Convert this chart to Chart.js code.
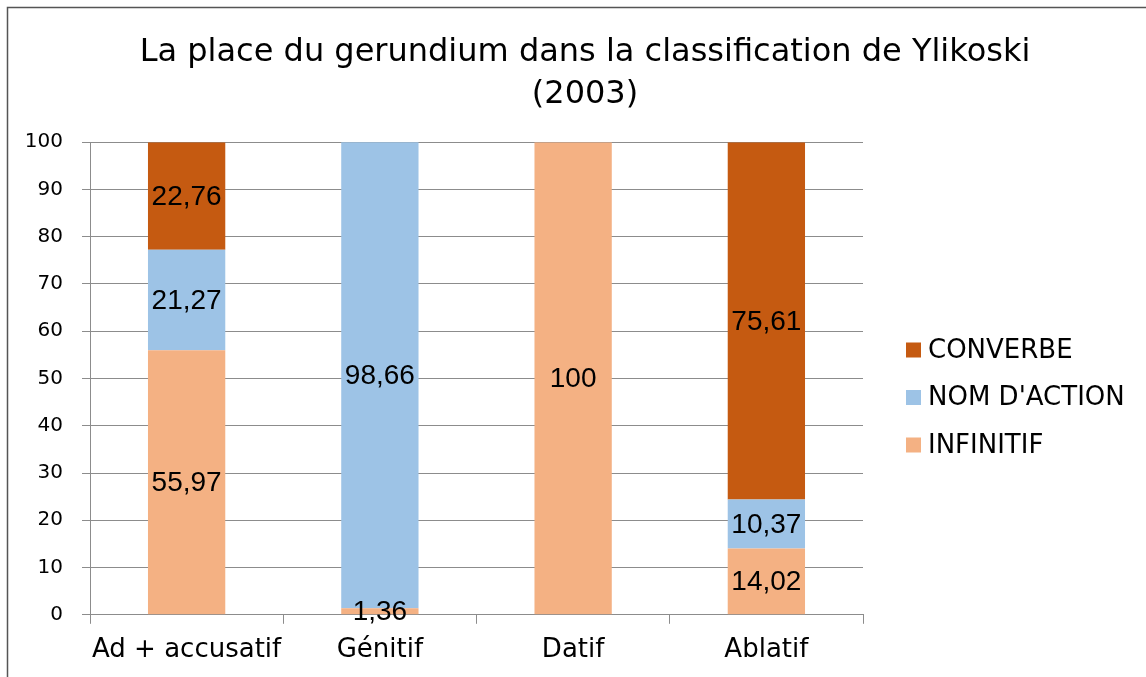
<!DOCTYPE html>
<html>
<head>
<meta charset="utf-8">
<script src="https://cdn.jsdelivr.net/npm/chart.js@4.4.1/dist/chart.umd.min.js"></script>
<style>
  html, body { margin: 0; padding: 0; background: #fff; }
  #wrap { width: 1146px; height: 677px; }
</style>
</head>
<body>
<div id="wrap"><canvas id="chart"></canvas></div>
<script>
/* data */
const categories = ['Ad + accusatif', 'Génitif', 'Datif', 'Ablatif']
const infinitif = [55.97, 1.36, 100, 14.02]
const nomAction = [21.27, 98.66, 0, 10.37]
const converbe = [22.76, 0, 0, 75.61]
const yTicks = [0, 10, 20, 30, 40, 50, 60, 70, 80, 90, 100]

/* frame round the chart */
const framePlugin = {
  id: 'frame',
  beforeDraw(chart) {
    const ctx = chart.ctx
    ctx.save()
    ctx.fillStyle = '#fff'
    ctx.fillRect(0, 0, chart.width, chart.height)
    ctx.strokeStyle = '#555'
    ctx.lineWidth = 1.5
    ctx.strokeRect(7.5, 7.5, chart.width + 50, chart.height + 50)
    ctx.restore()
  }
}

/* values in the bars */
const valueLabels = {
  id: 'valueLabels',
  afterDatasetsDraw(chart) {
    const ctx = chart.ctx
    ctx.save()
    ctx.font = '28px "Liberation Sans"'
    ctx.fillStyle = '#000'
    ctx.textAlign = 'center'
    ctx.textBaseline = 'middle'
    chart.data.datasets.forEach((ds, i) => {
      chart.getDatasetMeta(i).data.forEach((bar, j) => {
        const v = ds.data[j]
        if (!v) return
        const txt = String(v).replace('.', ',')
        ctx.fillText(txt, bar.x, (bar.y + bar.base) / 2 + 1)
      })
    })
    ctx.restore()
  }
}

/* legend on the right, last series on top */
const sideLegend = {
  id: 'sideLegend',
  afterDraw(chart) {
    const ctx = chart.ctx
    const area = chart.chartArea
    const x = area.right + 43
    const rowH = 47.5
    const ds = chart.data.datasets.slice().reverse()
    const midY = (area.top + area.bottom) / 2 + 19
    const y0 = midY - rowH * (ds.length - 1) / 2
    ctx.save()
    ctx.font = '26px "DejaVu Sans"'
    ctx.textBaseline = 'middle'
    ds.forEach((d, i) => {
      const y = y0 + i * rowH
      ctx.fillStyle = d.backgroundColor
      ctx.fillRect(x, y - 7.5, 15, 15)
      ctx.fillStyle = '#000'
      ctx.fillText(d.label, x + 22, y + 1)
    })
    ctx.restore()
  }
}

new Chart(document.getElementById('chart'), {
  type: 'bar',
  data: {
    labels: categories,
    datasets: [
      { label: 'INFINITIF', data: infinitif, backgroundColor: '#F4B183' },
      { label: "NOM D'ACTION", data: nomAction, backgroundColor: '#9DC3E6' },
      { label: 'CONVERBE', data: converbe, backgroundColor: '#C55A11' }
    ]
  },
  options: {
    responsive: true,
    maintainAspectRatio: false,
    animation: false,
    barPercentage: 0.4,
    categoryPercentage: 1,
    layout: { padding: { left: 24, right: 0, top: 0, bottom: 0 } },
    scales: {
      x: {
        stacked: true,
        grid: { offset: true, drawOnChartArea: false, tickLength: 9, color: '#8c8c8c' },
        border: { color: '#8c8c8c' },
        ticks: {
          color: '#000', padding: 11, maxRotation: 0, minRotation: 0, autoSkip: false,
          font: { family: 'DejaVu Sans', size: 26 }
        }
      },
      y: {
        stacked: true,
        min: 0,
        max: 100,
        afterBuildTicks(axis) { axis.ticks = yTicks.map(v => ({ value: v })) },
        afterFit(axis) { axis.width = 66 },
        grid: { color: '#8c8c8c', tickLength: 8 },
        border: { color: '#8c8c8c' },
        ticks: { color: '#000', padding: 19, font: { family: 'DejaVu Sans', size: 20 } }
      },
      // empty axis that keeps room for the legend on the right
      side: {
        type: 'linear',
        position: 'right',
        afterFit(axis) { axis.width = 283 },
        grid: { display: false },
        border: { display: false },
        ticks: { display: false }
      }
    },
    plugins: {
      title: {
        display: true,
        text: ['La place du gerundium dans la classification de Ylikoski', '(2003)'],
        color: '#000',
        font: { family: 'DejaVu Sans', size: 32, weight: 'normal', lineHeight: 1.3 },
        padding: { top: 32, bottom: 27 }
      },
      legend: { display: false },
      tooltip: { enabled: false }
    }
  },
  plugins: [framePlugin, valueLabels, sideLegend]
})
</script>
</body>
</html>
